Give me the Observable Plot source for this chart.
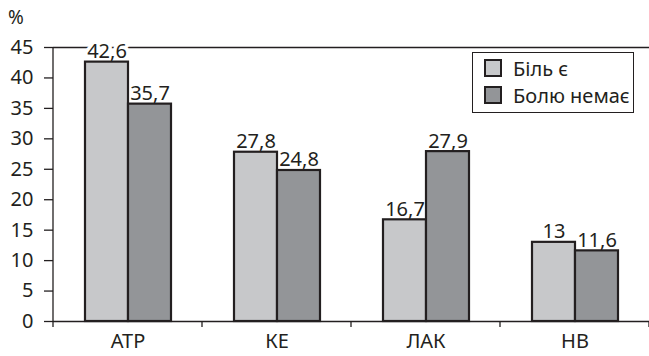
<!DOCTYPE html>
<html>
<head>
<meta charset="utf-8">
<script src="https://cdn.jsdelivr.net/npm/d3@7"></script>
<script src="https://cdn.jsdelivr.net/npm/@observablehq/plot@0.6"></script>
<style>
  html, body { margin: 0; padding: 0; background: #fff; overflow: hidden; }
  #wrap { position: relative; width: 649px; height: 356px; font-family: "Noto Sans", sans-serif; color: #231f20; }
  #unit { position: absolute; left: 8px; top: 8px; font-size: 19px; line-height: 1; }
  #legend { position: absolute; left: 472px; top: 52px; width: 160px; height: 59px; border: 1px solid #231f20;
            background: #fff; box-sizing: content-box; font-size: 20px; }
  #legend .row { position: absolute; left: 11px; display: flex; align-items: center; height: 18px; white-space: nowrap; }
  #legend .sw { width: 14px; height: 14px; border: 2px solid #231f20; margin-right: 11px; flex: none; }
  #wrap svg text { font-size: 20px; font-family: "Noto Sans", sans-serif; }
</style>
</head>
<body>
<div id="wrap">
  <div id="unit">%</div>
  <div id="legend"></div>
</div>
<script>
// Categories and the two series (share of patients, %)
const categories = ["АТР", "КЕ", "ЛАК", "НВ"];
const seriesNames = ["Біль є", "Болю немає"];
const painYes = [42.6, 27.8, 16.7, 13];
const painNo = [35.7, 24.8, 27.9, 11.6];
const yTicks = [0, 5, 10, 15, 20, 25, 30, 35, 40, 45];
const seriesColors = ["#c7c8ca", "#939598"];
const ink = "#231f20";

const data = categories.flatMap((category, i) => [
  {category, series: seriesNames[0], value: painYes[i]},
  {category, series: seriesNames[1], value: painNo[i]}
]);

const fmt = v => String(v).replace(".", ",");

const chart = Plot.plot({
  width: 649,
  height: 356,
  marginTop: 47,
  marginBottom: 35,
  marginLeft: 52,
  marginRight: 0,
  style: {fontFamily: "'Noto Sans', sans-serif", fontSize: "20px", color: ink, background: "transparent", overflow: "visible"},
  fx: {domain: categories, padding: 0, label: null},
  x: {domain: seriesNames, paddingInner: 0, paddingOuter: 0.7, axis: null},
  y: {domain: [0, 45], ticks: yTicks, label: null},
  color: {domain: seriesNames, range: seriesColors},
  marks: [
    Plot.ruleY([45], {stroke: ink, strokeWidth: 1.3}),
    Plot.ruleY([0], {stroke: ink, strokeWidth: 1.3}),
    Plot.text(data, {
      fx: "category", x: "series", y: "value", text: d => fmt(d.value),
      dy: -4, lineAnchor: "bottom", fill: ink, stroke: "white", strokeWidth: 7, fontSize: 20
    }),
    Plot.barY(data, {fx: "category", x: "series", y: "value", fill: "series", stroke: ink, strokeWidth: 2.2}),
    Plot.axisY({ticks: yTicks, tickSize: 9, tickPadding: 11, label: null, stroke: ink, strokeWidth: 1.3, fontSize: 20}),
    Plot.axisFx({anchor: "bottom", tickSize: 0, tickPadding: 12, label: null, fontSize: 20})
  ]
});

// Vertical value axis line and category boundary ticks
const fx = chart.scale("fx");
const y = chart.scale("y");
const svg = d3.select(chart);
const x0 = fx.apply(categories[0]);
const g = svg.append("g").attr("stroke", ink).attr("stroke-width", 1.3);
g.append("line").attr("x1", x0).attr("x2", x0).attr("y1", y.apply(0)).attr("y2", y.apply(45));
const bounds = categories.map(c => fx.apply(c)).concat([fx.apply(categories[categories.length - 1]) + fx.bandwidth]);
g.selectAll("line.b").data(bounds).join("line").attr("class", "b")
  .attr("x1", d => d).attr("x2", d => d)
  .attr("y1", y.apply(0)).attr("y2", y.apply(0) + 6);

const wrap = document.getElementById("wrap");
wrap.insertBefore(chart, wrap.firstChild);
chart.style.position = "absolute";
chart.style.left = "0";
chart.style.top = "0";

// Legend box
const legend = d3.select("#legend");
seriesNames.forEach((name, i) => {
  const row = legend.append("div").attr("class", "row").style("top", (i === 0 ? 6 : 33) + "px");
  row.append("div").attr("class", "sw").style("background", seriesColors[i]);
  row.append("span").text(name);
});
</script>
</body>
</html>
